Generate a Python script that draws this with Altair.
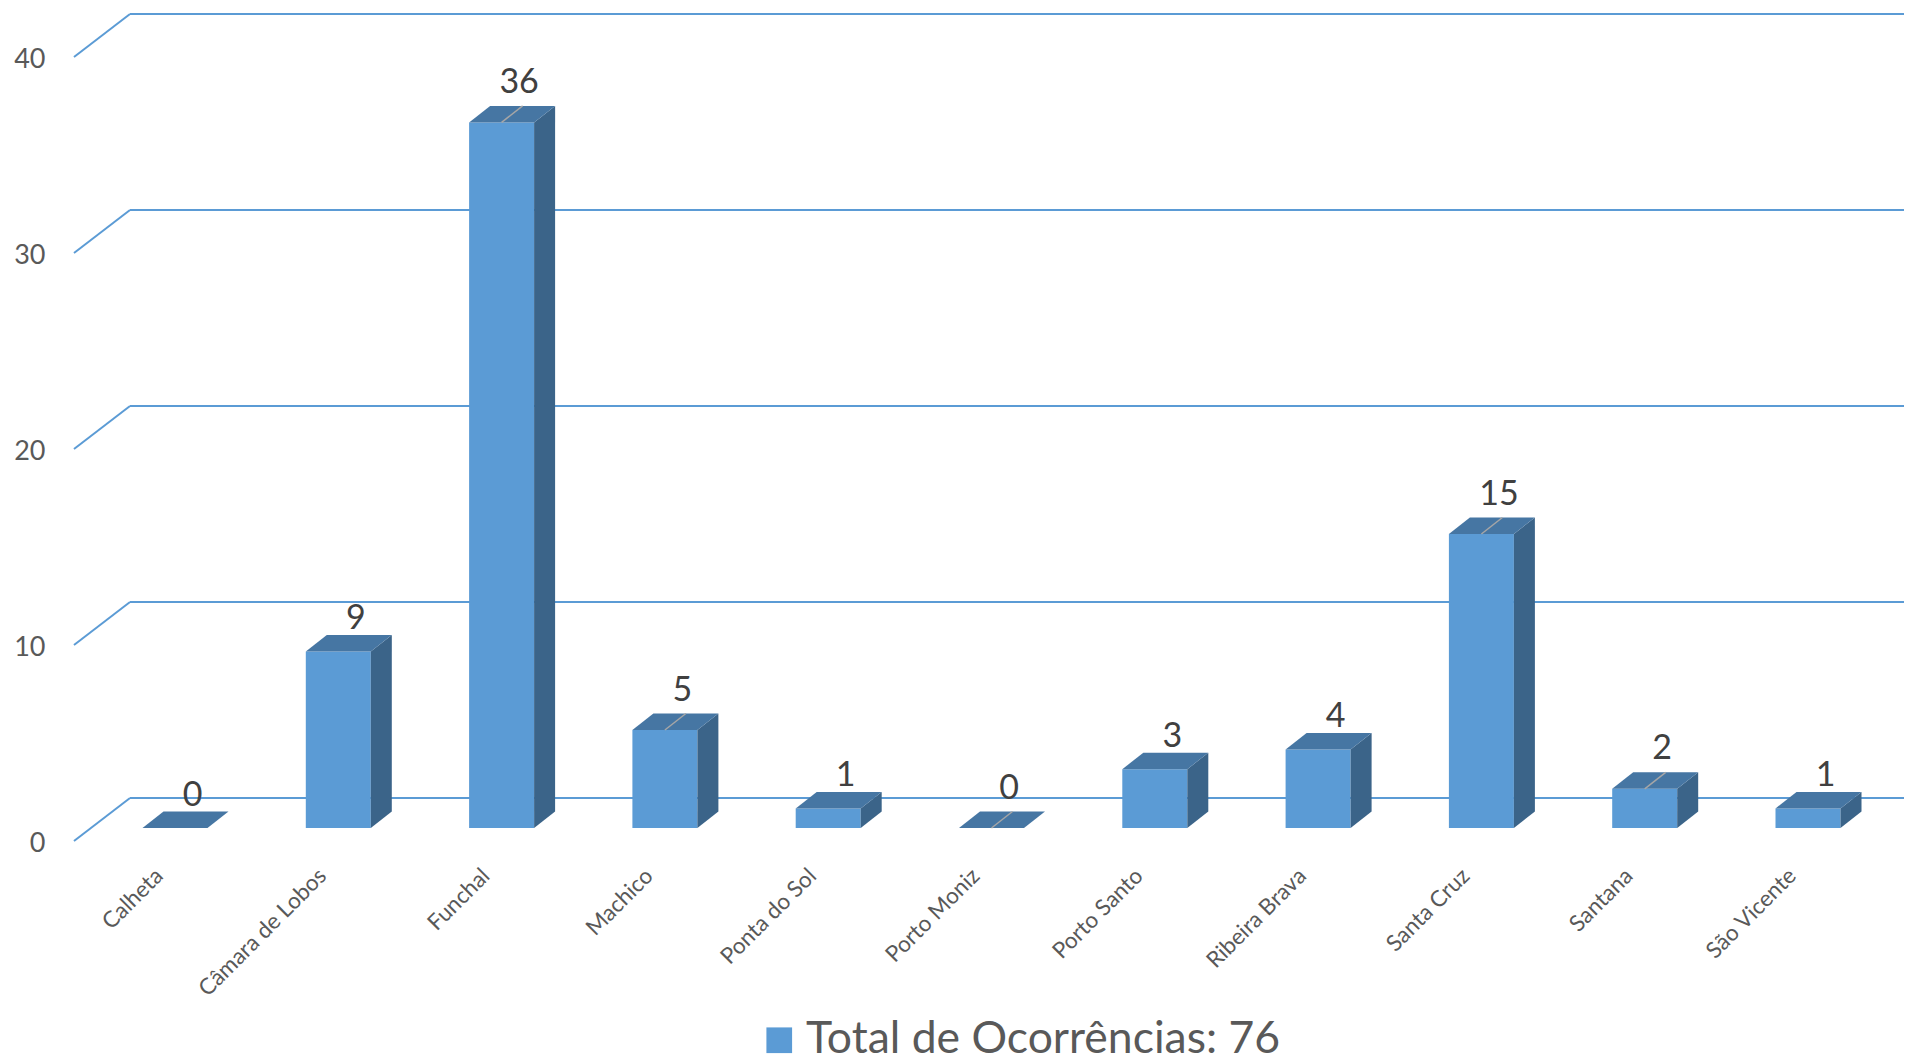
import json
import altair as alt
import pandas as pd

# ---- data ----
categories = ["Calheta", "Câmara de Lobos", "Funchal", "Machico", "Ponta do Sol",
              "Porto Moniz", "Porto Santo", "Ribeira Brava", "Santa Cruz",
              "Santana", "São Vicente"]
values = [0, 9, 36, 5, 1, 0, 3, 4, 15, 2, 1]
has_leader = [False, False, True, True, False, True, False, False, True, True, False]
y_ticks = [0, 10, 20, 30, 40]
series_name = "Total de Ocorrências: 76"

# ---- geometry / style ----
FONT = "Lato"
W, H = 1830, 833
PAD_L, PAD_B = 66, 223
PX_CAT = 163.3
PX_UNIT = 19.6
FIRST_PX = 101.0
HALF = 32.5 / PX_CAT
DX = 21.0 / PX_CAT
DY = 16.5 / PX_UNIT
LABEL_DX = 17.5 / PX_CAT
LIFT = -13
WALL_DX, WALL_DY = 56, -43
BLUE = "#5B9BD5"
SIDE = "#3B6489"
TOP = "#4676A3"

xs = alt.Scale(domain=[-FIRST_PX / PX_CAT, (W - FIRST_PX) / PX_CAT], nice=False, zero=False)
ys = alt.Scale(domain=[0, H / PX_UNIT], nice=False, zero=False)

idx = list(range(len(categories)))
bars = pd.DataFrame({"i": idx, "cat": categories, "v": values, "series": series_name})
bars["xl"] = bars["i"] - HALF
bars["xr"] = bars["i"] + HALF
bars["zero"] = 0.0

side_rows, top_rows = [], []
for i, v in zip(idx, values):
    xl, xr = i - HALF, i + HALF
    side_rows += [dict(i=i, x=xr, top=v, bot=0.0),
                  dict(i=i, x=xr + DX, top=v + DY, bot=DY)]
    top_rows += [dict(i=i, y=v, xa=xl, xb=xr),
                 dict(i=i, y=v + DY, xa=xl + DX, xb=xr + DX)]
side = pd.DataFrame(side_rows)
top = pd.DataFrame(top_rows)

labels = pd.DataFrame({
    "x": [i + LABEL_DX for i in idx],
    "y": [v + DY + (13 if l else 6) / PX_UNIT for v, l in zip(values, has_leader)],
    "t": [str(v) for v in values],
})
lead = pd.DataFrame([dict(x=i, y=v, x2=i + DX, y2=v + DY)
                     for i, v, l in zip(idx, values, has_leader) if l])
grid = pd.DataFrame({"g": y_ticks})

label_expr = json.dumps(categories, ensure_ascii=False) + "[datum.value]"

x_axis = alt.Axis(
    values=idx, labelExpr=label_expr, title=None, domain=False, ticks=False,
    grid=False, labelAngle=-45, labelAlign="right", labelBaseline="middle",
    labelPadding=31, labelOffset=-16, labelFontSize=22.5, labelColor="#595959",
    labelFont=FONT, labelFlush=False, labelOverlap=False, labelLimit=0)
y_axis = alt.Axis(
    values=y_ticks, title=None, domain=False, ticks=False, grid=False,
    labelPadding=29, labelOffset=2, labelFontSize=27, labelColor="#595959",
    labelFont=FONT, labelFlush=False, labelOverlap=False)

back = alt.Chart(grid).mark_rule(color=BLUE, strokeWidth=2, yOffset=WALL_DY).encode(
    x=alt.value(WALL_DX), x2=alt.value(W),
    y=alt.Y("g:Q", scale=ys, axis=y_axis))
wall = alt.Chart(grid).mark_rule(color=BLUE, strokeWidth=2, y2Offset=WALL_DY).encode(
    x=alt.value(0), x2=alt.value(WALL_DX),
    y=alt.Y("g:Q", scale=ys, axis=y_axis), y2="g:Q")

front = alt.Chart(bars).mark_bar(yOffset=LIFT, y2Offset=LIFT).encode(
    x=alt.X("xl:Q", scale=xs, axis=x_axis),
    x2="xr:Q",
    y=alt.Y("v:Q", scale=ys, axis=y_axis),
    y2="zero:Q",
    color=alt.Color("series:N", scale=alt.Scale(domain=[series_name], range=[BLUE]),
                    legend=alt.Legend(title=None, orient="none", legendX=683, legendY=1010,
                                      symbolType="square", symbolSize=660,
                                      symbolStrokeWidth=0, labelFontSize=44.5,
                                      labelFont=FONT, labelColor="#595959",
                                      labelOffset=4.5, padding=0, labelLimit=0)),
)

side_l = alt.Chart(side).mark_area(color=SIDE, yOffset=LIFT, y2Offset=LIFT).encode(
    x=alt.X("x:Q", scale=xs, axis=x_axis),
    y=alt.Y("top:Q", scale=ys, axis=y_axis), y2="bot:Q", detail="i:N")

top_l = alt.Chart(top).mark_area(color=TOP, orient="horizontal", yOffset=LIFT).encode(
    y=alt.Y("y:Q", scale=ys, axis=y_axis),
    x=alt.X("xa:Q", scale=xs, axis=x_axis), x2="xb:Q", detail="i:N")

lead_l = alt.Chart(lead).mark_rule(color="#A6A6A6", strokeWidth=1.5,
                                   yOffset=LIFT, y2Offset=LIFT).encode(
    x=alt.X("x:Q", scale=xs, axis=x_axis), x2="x2:Q",
    y=alt.Y("y:Q", scale=ys, axis=y_axis), y2="y2:Q")

text_l = alt.Chart(labels).mark_text(font=FONT, fontSize=34, color="#404040",
                                     baseline="alphabetic", align="center",
                                     yOffset=LIFT).encode(
    x=alt.X("x:Q", scale=xs, axis=x_axis),
    y=alt.Y("y:Q", scale=ys, axis=y_axis), text="t:N")

chart = alt.layer(back, wall, front, side_l, top_l, lead_l, text_l).properties(
    width=W, height=H,
    autosize=alt.AutoSizeParams(type="none"),
    padding={"left": PAD_L, "top": 0, "right": 0, "bottom": PAD_B},
).configure(font=FONT).configure_view(stroke=None)

chart.save("out.html", embed_options={"renderer": "svg", "actions": False})
